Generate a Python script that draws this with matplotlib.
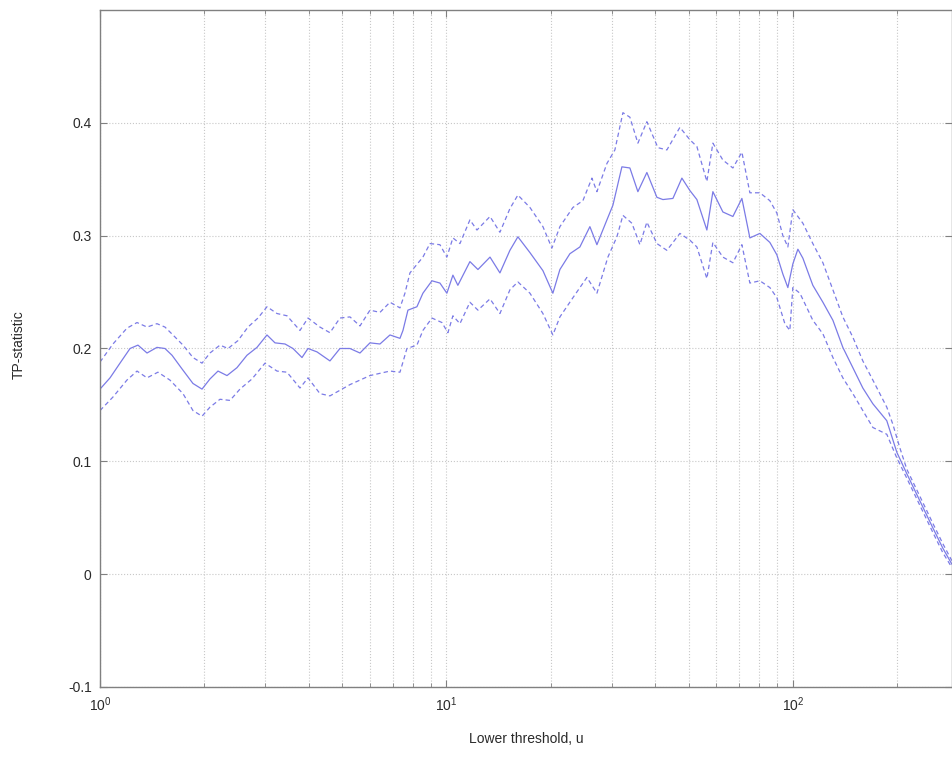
import matplotlib
matplotlib.use("Agg")
import matplotlib.pyplot as plt
from matplotlib.ticker import LogLocator, NullFormatter, FixedLocator

plt.rcParams["font.family"] = ["Liberation Sans", "DejaVu Sans"]
plt.rcParams["axes.unicode_minus"] = False

# TP-statistic (solid) with upper/lower bands (dashed)
u_mid = [1.00, 1.069, 1.142, 1.221, 1.287, 1.367, 1.460, 1.540, 1.614, 1.724,
         1.855, 1.970, 2.077, 2.191, 2.326, 2.485, 2.656, 2.839, 3.034, 3.200,
         3.420, 3.606, 3.829, 3.985, 4.230, 4.611, 4.928, 5.267, 5.629, 6.016,
         6.429, 6.871, 7.343, 7.491, 7.743, 8.219, 8.553, 9.083, 9.577, 10.03,
         10.44, 10.79, 11.69, 12.33, 13.36, 14.27, 15.25, 16.08, 17.42, 18.99,
         20.29, 21.26, 22.72, 24.28, 25.95, 27.19, 29.06, 30.24, 32.10, 33.85,
         35.70, 37.90, 40.51, 42.16, 45.06, 47.83, 50.44, 52.84, 56.47, 58.77,
         62.81, 67.13, 71.27, 75.15, 80.32, 85.83, 89.92, 93.57, 96.73, 100.0,
         103.4, 106.9, 112.0, 114.2, 122.1, 130.5, 139.4, 149.0, 159.2, 170.2,
         186.7, 199.6, 213.3, 232.6, 253.6, 271.0, 287.6]
tp_mid = [0.164, 0.174, 0.187, 0.200, 0.203, 0.196, 0.201, 0.200, 0.194, 0.182,
          0.169, 0.164, 0.173, 0.180, 0.176, 0.183, 0.194, 0.201, 0.212, 0.205,
          0.204, 0.200, 0.192, 0.200, 0.197, 0.189, 0.200, 0.200, 0.196, 0.205,
          0.204, 0.212, 0.209, 0.216, 0.234, 0.237, 0.249, 0.260, 0.258, 0.249,
          0.265, 0.256, 0.277, 0.270, 0.281, 0.267, 0.287, 0.299, 0.285, 0.269,
          0.249, 0.270, 0.284, 0.290, 0.308, 0.292, 0.314, 0.327, 0.361, 0.360,
          0.339, 0.356, 0.334, 0.332, 0.333, 0.351, 0.340, 0.332, 0.305, 0.339,
          0.321, 0.317, 0.333, 0.298, 0.302, 0.294, 0.283, 0.266, 0.254, 0.275,
          0.288, 0.280, 0.263, 0.256, 0.241, 0.225, 0.201, 0.183, 0.165, 0.151,
          0.136, 0.108, 0.089, 0.065, 0.041, 0.023, 0.009]

u_hi = [1.00, 1.090, 1.196, 1.279, 1.367, 1.460, 1.540, 1.624, 1.736, 1.855,
        1.970, 2.077, 2.220, 2.342, 2.502, 2.674, 2.858, 3.034, 3.243, 3.465,
        3.778, 3.985, 4.314, 4.611, 4.928, 5.267, 5.629, 6.016, 6.429, 6.871,
        7.343, 7.590, 7.847, 8.553, 8.963, 9.577, 10.03, 10.44, 10.94, 11.69,
        12.25, 13.36, 14.27, 15.25, 16.08, 17.42, 18.99, 20.16, 21.26, 23.18,
        24.77, 26.30, 27.19, 29.06, 30.64, 32.32, 33.85, 35.70, 37.90, 40.78,
        43.29, 47.20, 50.44, 52.84, 56.47, 58.77, 62.81, 67.13, 71.27, 75.15,
        80.32, 85.83, 89.92, 93.57, 96.73, 100.0, 106.9, 114.2, 122.1, 130.5,
        139.4, 149.0, 159.2, 170.2, 186.7, 194.3, 203.6, 213.3, 232.6, 253.6,
        271.0, 287.6]
tp_hi = [0.188, 0.204, 0.218, 0.223, 0.219, 0.222, 0.219, 0.212, 0.203, 0.192,
         0.187, 0.196, 0.203, 0.200, 0.207, 0.219, 0.227, 0.237, 0.231, 0.229,
         0.216, 0.227, 0.219, 0.214, 0.227, 0.228, 0.220, 0.234, 0.232, 0.241,
         0.236, 0.249, 0.267, 0.281, 0.293, 0.292, 0.281, 0.298, 0.293, 0.314,
         0.305, 0.317, 0.303, 0.324, 0.336, 0.325, 0.308, 0.289, 0.308, 0.325,
         0.331, 0.351, 0.339, 0.364, 0.376, 0.409, 0.405, 0.382, 0.401, 0.378,
         0.376, 0.396, 0.385, 0.379, 0.348, 0.382, 0.367, 0.360, 0.374, 0.338,
         0.338, 0.331, 0.320, 0.300, 0.290, 0.323, 0.311, 0.293, 0.276, 0.252,
         0.228, 0.210, 0.189, 0.172, 0.148, 0.133, 0.112, 0.093, 0.069, 0.045,
         0.027, 0.012]

u_lo = [1.00, 1.090, 1.196, 1.279, 1.367, 1.470, 1.592, 1.736, 1.855, 1.970,
        2.077, 2.220, 2.373, 2.535, 2.746, 2.994, 3.243, 3.465, 3.778, 3.985,
        4.314, 4.611, 5.267, 6.016, 6.871, 7.343, 7.691, 8.219, 8.553, 9.083,
        9.706, 10.10, 10.44, 10.94, 11.69, 12.33, 13.36, 14.27, 15.25, 16.08,
        17.42, 18.99, 20.29, 21.26, 23.18, 25.44, 27.19, 29.25, 31.05, 32.32,
        34.31, 36.18, 37.90, 40.51, 43.29, 47.20, 50.44, 52.84, 56.47, 58.77,
        62.81, 67.13, 71.27, 75.15, 80.32, 85.83, 89.92, 94.82, 98.02, 100.0,
        104.8, 114.2, 122.1, 130.5, 139.4, 149.0, 159.2, 170.2, 186.7, 199.6,
        213.3, 232.6, 253.6, 271.0, 287.6]
tp_lo = [0.145, 0.157, 0.172, 0.180, 0.174, 0.179, 0.172, 0.160, 0.145, 0.140,
         0.148, 0.155, 0.154, 0.164, 0.173, 0.187, 0.180, 0.179, 0.165, 0.174,
         0.160, 0.158, 0.168, 0.176, 0.180, 0.179, 0.200, 0.203, 0.216, 0.227,
         0.223, 0.214, 0.229, 0.222, 0.241, 0.234, 0.244, 0.231, 0.252, 0.259,
         0.249, 0.231, 0.212, 0.228, 0.245, 0.263, 0.249, 0.281, 0.299, 0.318,
         0.311, 0.292, 0.312, 0.293, 0.287, 0.302, 0.296, 0.290, 0.262, 0.294,
         0.281, 0.276, 0.292, 0.258, 0.260, 0.254, 0.245, 0.222, 0.216, 0.254,
         0.249, 0.225, 0.213, 0.192, 0.174, 0.160, 0.145, 0.130, 0.124, 0.103,
         0.085, 0.061, 0.037, 0.019, 0.006]

y_ticks = [-0.1, 0, 0.1, 0.2, 0.3, 0.4]
y_labels = ["-0.1", "0", "0.1", "0.2", "0.3", "0.4"]
x_ticks = [1, 10, 100]
x_labels = [r"$\mathregular{10^{0}}$", r"$\mathregular{10^{1}}$", r"$\mathregular{10^{2}}$"]

LINE = "#7b7be6"
GRID = "#c8c8c8"
AXC = "#808080"

fig = plt.figure(figsize=(9.53, 7.68), dpi=100)
ax = fig.add_axes([100 / 953, 81 / 768, 852 / 953, 677 / 768])

ax.plot(u_mid, tp_mid, color=LINE, lw=0.9)
ax.plot(u_hi, tp_hi, color=LINE, lw=0.9, ls=(0, (3.5, 2.5)))
ax.plot(u_lo, tp_lo, color=LINE, lw=0.9, ls=(0, (3.5, 2.5)))

ax.set_xscale("log")
ax.set_xlim(1, 288)
ax.set_ylim(-0.1, 0.5)
ax.xaxis.set_major_locator(FixedLocator(x_ticks))
ax.set_xticklabels(x_labels)
ax.xaxis.set_minor_locator(LogLocator(base=10, subs=range(2, 10)))
ax.xaxis.set_minor_formatter(NullFormatter())
ax.set_yticks(y_ticks)
ax.set_yticklabels(y_labels)

ax.grid(which="major", color=GRID, ls=":", lw=0.8)
ax.grid(which="minor", axis="x", color=GRID, ls=":", lw=0.8)
ax.set_axisbelow(True)

for s in ax.spines.values():
    s.set_color(AXC)
    s.set_linewidth(1.0)
ax.tick_params(which="both", direction="in", top=True, right=True,
               color=AXC, labelcolor="#2a2a2a", labelsize=10)
ax.tick_params(which="major", length=5, pad=6)
ax.tick_params(which="minor", length=3)

ax.set_xlabel("Lower threshold, u", fontsize=10, color="#2a2a2a")
ax.set_ylabel("TP-statistic", fontsize=10, color="#2a2a2a")
ax.xaxis.set_label_coords(0.5, -0.066)
ax.yaxis.set_label_coords(-0.087, 0.505)

fig.savefig("out.png", dpi=100)
